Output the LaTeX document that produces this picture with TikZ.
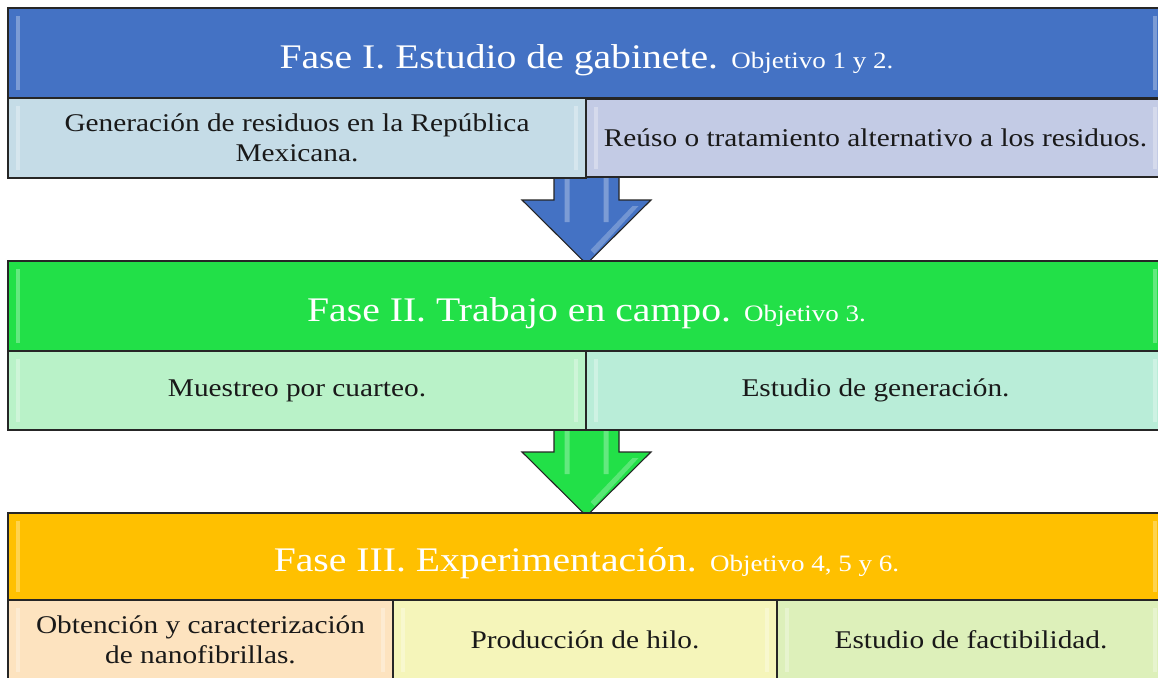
\documentclass[tikz,border=0pt]{standalone}
\usepackage{fontspec}
\setmainfont{Liberation Serif}[FakeStretch=1.15]
\usetikzlibrary{calc,backgrounds}
\definecolor{hblue}{HTML}{4472C4}
\definecolor{hgreen}{HTML}{22E048}
\definecolor{horange}{HTML}{FFC000}
\definecolor{ra}{HTML}{C5DCE7}
\definecolor{rb}{HTML}{C3CBE5}
\definecolor{ga}{HTML}{B9F2C8}
\definecolor{gb}{HTML}{B9EDD8}
\definecolor{oa}{HTML}{FDE3BF}
\definecolor{ob}{HTML}{F5F5BA}
\definecolor{oc}{HTML}{DDF0BA}
\newcommand\bodyfnt{\fontsize{25.5}{29.5}\selectfont}
\newcommand\hdrfnt{\fontsize{34.5}{40}\selectfont}
\newcommand\objfnt{\fontsize{23.5}{28}\selectfont}
\newcommand\blockarrow[3]{%
  \draw[arrowline, fill=#3] let \p1=(#1), \p2=(#2) in
    (\x1-32.5pt,\y1) -- (\x1-32.5pt,\y2+64pt) -- (\x1-64.5pt,\y2+64pt) -- (\x2,\y2)
    -- (\x1+64.5pt,\y2+64pt) -- (\x1+32.5pt,\y2+64pt) -- (\x1+32.5pt,\y1) -- cycle;
  \fill[white,opacity=.3] let \p1=(#1), \p2=(#2) in
    (\x1-22pt,\y1) rectangle (\x1-17pt,\y2+42pt)
    (\x1+17pt,\y1) rectangle (\x1+22pt,\y2+42pt);
  \fill[white,opacity=.25] let \p1=(#1), \p2=(#2) in
    (\x2+8pt,\y2+10pt) -- (\x1+52pt,\y2+58pt) -- (\x1+46pt,\y2+58pt) -- (\x2+4pt,\y2+14pt) -- cycle;
}
\begin{document}
\begin{tikzpicture}[x=1pt,y=-1pt,
  box/.style={draw=black!85, line width=1.3pt, rectangle, inner sep=0pt, outer sep=0pt,
    align=center, text=black!90, font=\bodyfnt, glint},
  hdr/.style={box, text=white, font=\hdrfnt, text height=30pt, text depth=0pt},
  glint/.style={path picture={
     \fill[white,opacity=.3] ([xshift=8pt,yshift=-8pt]path picture bounding box.north west)
        rectangle ([xshift=12pt,yshift=8pt]path picture bounding box.south west);
     \fill[white,opacity=.3] ([xshift=-12pt,yshift=-8pt]path picture bounding box.north east)
        rectangle ([xshift=-8pt,yshift=8pt]path picture bounding box.south east);}},
  arrowline/.style={draw=black!85, line width=1.1pt, line join=miter},
]
\useasboundingbox (0,0) rectangle (1158,677);

% Phase I
\node[hdr, fill=hblue, minimum width=1157pt, minimum height=90pt] (h1) at (586.5,53)
  {Fase I. Estudio de gabinete. {\objfnt Objetivo 1 y 2.}};
\node[box, fill=ra, minimum width=578pt, minimum height=80pt] (a1) at (297,138)
  {Generación de residuos en la República\\Mexicana.};
\node[box, fill=rb, minimum width=579pt, minimum height=78pt] (b1) at (875.5,138)
  {Reúso o tratamiento alternativo a los residuos.};

% Phase II
\node[hdr, fill=hgreen, minimum width=1157pt, minimum height=90pt] (h2) at (586.5,306)
  {Fase II. Trabajo en campo. {\objfnt Objetivo 3.}};
\node[box, fill=ga, minimum width=578pt, minimum height=79pt] (a2) at (297,390.5)
  {Muestreo por cuarteo.};
\node[box, fill=gb, minimum width=579pt, minimum height=79pt] (b2) at (875.5,390.5)
  {Estudio de generación.};

% Phase III
\node[hdr, fill=horange, minimum width=1157pt, minimum height=87pt] (h3) at (586.5,556.5)
  {Fase III. Experimentación. {\objfnt Objetivo 4, 5 y 6.}};
\node[box, fill=oa, minimum width=385pt, minimum height=80pt] (c1) at (200.5,640)
  {Obtención y caracterización\\de nanofibrillas.};
\node[box, fill=ob, minimum width=384pt, minimum height=80pt] (c2) at (585,640)
  {Producción de hilo.};
\node[box, fill=oc, minimum width=388pt, minimum height=80pt] (c3) at (971,640)
  {Estudio de factibilidad.};

% Arrows (shafts behind the boxes)
\begin{pgfonlayer}{background}
\fill[white] (0,0) rectangle (1158,677);
\coordinate (s1) at ($(h2.north |- a1.south)+(0,-10)$);
\coordinate (s2) at ($(h3.north |- a2.south)+(0,-10)$);
\coordinate (t1) at ($(h2.north)+(0,3)$);
\coordinate (t2) at ($(h3.north)+(0,3)$);
\blockarrow{s1}{t1}{hblue}
\blockarrow{s2}{t2}{hgreen}
\end{pgfonlayer}
\end{tikzpicture}
\end{document}
